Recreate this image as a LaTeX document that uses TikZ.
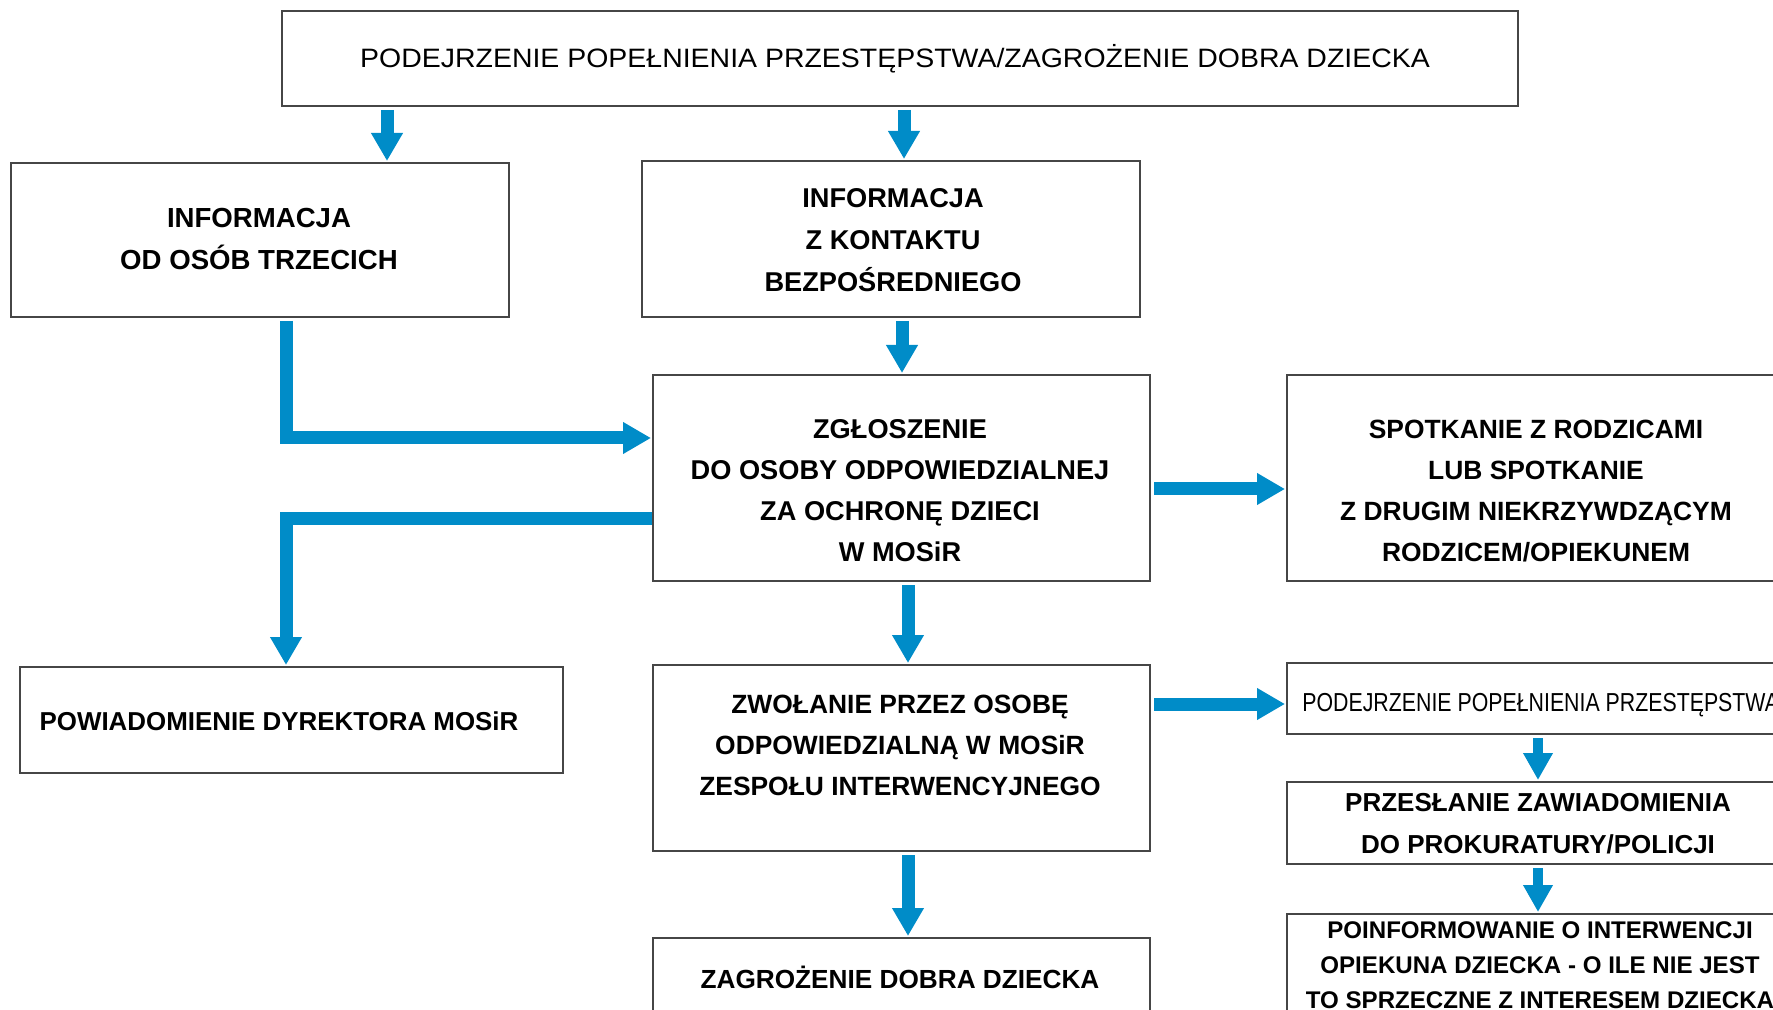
\documentclass[tikz,border=0pt]{standalone}
\usepackage{fontspec}
\setmainfont{Liberation Sans}
\newfontfamily\narrowfont{Liberation Sans}[FakeStretch=0.82]
\newfontfamily\widefont{Liberation Sans}[FakeStretch=1.07]
\usetikzlibrary{arrows.meta}
\definecolor{flowblue}{RGB}{0,140,200}
\definecolor{framegray}{RGB}{70,70,70}
\begin{document}
\begin{tikzpicture}[x=0.5pt,y=-0.5pt,
  box/.style={draw=framegray, line width=1pt, rectangle, inner sep=0pt, fill=white},
  lbl/.style={align=center, inner sep=0pt},
  flow/.style={draw=flowblue, line width=6.5pt, -{Triangle[width=15pt,length=14pt]}, shorten <=1.5pt, shorten >=0.5pt},
  flowsmall/.style={draw=flowblue, line width=5pt, -{Triangle[width=14pt,length=13.5pt]}, shorten <=1.5pt, shorten >=0.5pt},
]
\path[use as bounding box] (0,0) rectangle (1773,1010);
\fill[white] (0,0) rectangle (1773,1010);
\clip (0,0) rectangle (1773,1010);

% boxes
\node[box, minimum width=618pt, minimum height=47.5pt] (top) at (900,58.5) {};
\node[box, minimum width=249pt, minimum height=77pt] (A) at (260,240) {};
\node[box, minimum width=249pt, minimum height=78pt] (B) at (891,239) {};
\node[box, minimum width=248.5pt, minimum height=103pt] (C) at (901.5,478) {};
\node[box, minimum width=256.5pt, minimum height=103pt] (D) at (1543.5,478) {};
\node[box, minimum width=271.5pt, minimum height=53pt] (E) at (291.5,720) {};
\node[box, minimum width=248.5pt, minimum height=93pt] (F) at (901.5,758) {};
\node[box, minimum width=248.5pt, minimum height=46pt] (G) at (901.5,984) {};
\node[box, minimum width=256.5pt, minimum height=35.5pt] (H) at (1543.5,698.5) {};
\node[box, minimum width=256.5pt, minimum height=41pt] (I) at (1543.5,823) {};
\node[box, minimum width=256.5pt, minimum height=58pt] (J) at (1543.5,972) {};

% texts
\node[lbl, font=\widefont\fontsize{13.3}{20}\selectfont] (ttop) at (895,59) {PODEJRZENIE POPEŁNIENIA PRZESTĘPSTWA/ZAGROŻENIE DOBRA DZIECKA};
\node[lbl, font=\bfseries\fontsize{13.8}{21}\selectfont] (tA) at (259,239) {INFORMACJA\\OD OSÓB TRZECICH};
\node[lbl, font=\bfseries\fontsize{13.6}{21}\selectfont] (tB) at (893,240) {INFORMACJA\\Z KONTAKTU\\BEZPOŚREDNIEGO};
\node[lbl, font=\bfseries\fontsize{13.6}{20.5}\selectfont] (tC) at (900,491) {ZGŁOSZENIE\\DO OSOBY ODPOWIEDZIALNEJ\\ZA OCHRONĘ DZIECI\\W MOSiR};
\node[lbl, font=\bfseries\fontsize{13.2}{20.5}\selectfont] (tD) at (1536,491) {SPOTKANIE Z RODZICAMI\\LUB SPOTKANIE\\Z DRUGIM NIEKRZYWDZĄCYM\\RODZICEM/OPIEKUNEM};
\node[lbl, font=\bfseries\fontsize{12.95}{20}\selectfont] (tE) at (279,721) {POWIADOMIENIE DYREKTORA MOSiR};
\node[lbl, font=\bfseries\fontsize{13.2}{20.5}\selectfont] (tF) at (900,745) {ZWOŁANIE PRZEZ OSOBĘ\\ODPOWIEDZIALNĄ W MOSiR\\ZESPOŁU INTERWENCYJNEGO};
\node[lbl, font=\bfseries\fontsize{13.1}{20}\selectfont] (tG) at (900,977) {ZAGROŻENIE DOBRA DZIECKA};
\node[lbl, anchor=west, font=\narrowfont\fontsize{13}{20}\selectfont] (tH) at (1302,705) {PODEJRZENIE POPEŁNIENIA PRZESTĘPSTWA};
\node[lbl, font=\bfseries\fontsize{13}{21}\selectfont] (tI) at (1538,824) {PRZESŁANIE ZAWIADOMIENIA\\DO PROKURATURY/POLICJI};
\node[lbl, font=\bfseries\fontsize{12.05}{17.5}\selectfont] (tJ) at (1540,965) {POINFORMOWANIE O INTERWENCJI\\OPIEKUNA DZIECKA - O ILE NIE JEST\\TO SPRZECZNE Z INTERESEM DZIECKA};

% helper coordinates
\coordinate (x1) at (387,0);
\coordinate (x2) at (904,0);
\coordinate (x3) at (902,0);
\coordinate (xL) at (286,0);
\coordinate (x4) at (908,0);
\coordinate (x5) at (1538,0);
\coordinate (yA) at (0,438);
\coordinate (yB) at (0,519);
\coordinate (yD) at (0,489);
\coordinate (yH) at (0,704);

% connectors
\draw[flow] (top.south -| x1) -- (A.north -| x1);
\draw[flow] (top.south -| x2) -- (B.north -| x2);
\draw[flow] (B.south -| x3) -- (C.north -| x3);
\draw[flow, line join=miter] (A.south -| xL) |- (C.west |- yA);
\draw[flow, line join=miter, shorten <=0pt] (C.west |- yB) -| (E.north -| xL);
\draw[flow] (C.east |- yD) -- (D.west |- yD);
\draw[flow] (C.south -| x4) -- (F.north -| x4);
\draw[flow] (F.east |- yH) -- (H.west |- yH);
\draw[flow] (F.south -| x4) -- (G.north -| x4);
\draw[flowsmall] (H.south -| x5) -- (I.north -| x5);
\draw[flowsmall] (I.south -| x5) -- (J.north -| x5);
\end{tikzpicture}
\end{document}
